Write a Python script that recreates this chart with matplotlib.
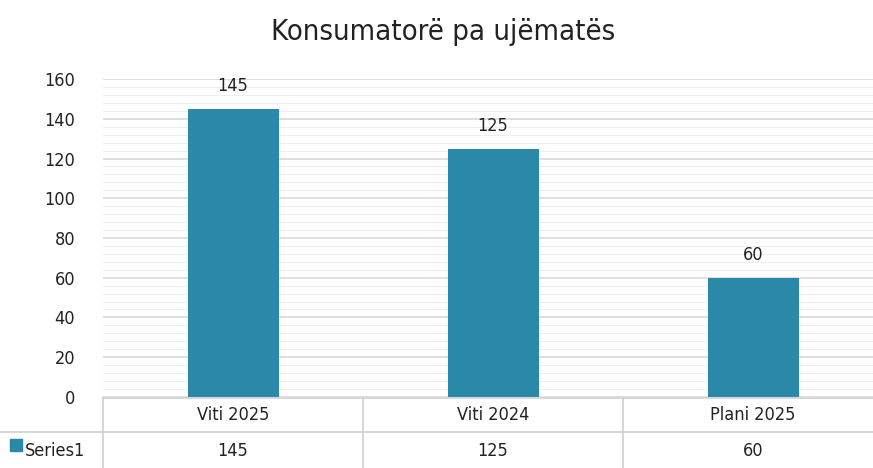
import matplotlib.pyplot as plt
import matplotlib.transforms as mtransforms
import numpy as np

# chart data
categories = ['Viti 2025', 'Viti 2024', 'Plani 2025']
values = [145, 125, 60]
series_name = 'Series1'
title = 'Konsumatorë pa ujëmatës'

bar_color = '#2a88a9'
grid_color = '#d9d9d9'
line_color = '#d0d0d0'
text_color = '#222222'

plt.rcParams['font.family'] = ['DejaVu Sans']
plt.rcParams['font.stretch'] = 'condensed'

fig = plt.figure(figsize=(8.73, 4.68), dpi=100)
ax_left = 103 / 873
ax = fig.add_axes([ax_left, 0.152, 780 / 873, 0.679])

x = np.arange(len(categories))
bars = ax.bar(x, values, width=0.35, color=bar_color, zorder=3)
for xi, v in zip(x, values):
    ax.text(xi, v + 7, str(v), ha='center', va='bottom', fontsize=13, color=text_color)

ax.set_xlim(-0.5, len(categories) - 0.5)
ax.set_ylim(0, 160)
ax.set_yticks(np.arange(0, 161, 20))
ax.set_yticks(np.arange(0, 161, 4), minor=True)
ax.grid(axis='y', which='major', color=grid_color, linewidth=1.2, zorder=0)
ax.grid(axis='y', which='minor', color='#eeeeee', linewidth=0.8, zorder=0)
ax.tick_params(axis='y', which='both', length=0, labelsize=13, labelcolor=text_color, pad=20)
ax.set_xticks([])
for s in ax.spines.values():
    s.set_visible(False)

fig.suptitle(title, x=0.508, y=0.962, va='top', fontsize=21, color=text_color)

# data table below the plot
trans = mtransforms.blended_transform_factory(ax.transData, fig.transFigure)
row1_top = 1 - 398 / 468
row1_bot = 1 - 432 / 468
row2_bot = 0.0

# horizontal lines
ax.plot([-0.5, len(categories) - 0.5], [row1_top, row1_top], transform=trans,
        color=line_color, linewidth=1.2, clip_on=False)
fig.add_artist(plt.Line2D([0.0, 1.0], [row1_bot, row1_bot], color=line_color, linewidth=1.2))
# vertical lines
fig.add_artist(plt.Line2D([ax_left, ax_left], [row2_bot, row1_top], color=line_color, linewidth=1.2))
for b in np.arange(0.5, len(categories) - 0.5, 1.0):
    ax.plot([b, b], [row2_bot, row1_top], transform=trans, color=line_color,
            linewidth=1.2, clip_on=False)

for xi, cat, v in zip(x, categories, values):
    ax.text(xi, (row1_top + row1_bot) / 2, cat, transform=trans, ha='center', va='center',
            fontsize=13, color=text_color)
    ax.text(xi, (row1_bot + row2_bot) / 2 - 0.003, str(v), transform=trans, ha='center',
            va='center', fontsize=13, color=text_color)

# legend key in row header
fig.patches.append(plt.Rectangle((0.012, 0.036), 0.013, 0.026, color=bar_color,
                                 transform=fig.transFigure, figure=fig))
fig.text(0.029, (row1_bot + row2_bot) / 2 - 0.003, series_name, ha='left', va='center',
         fontsize=13, color=text_color)

fig.savefig('out.png', dpi=100, facecolor='white')
